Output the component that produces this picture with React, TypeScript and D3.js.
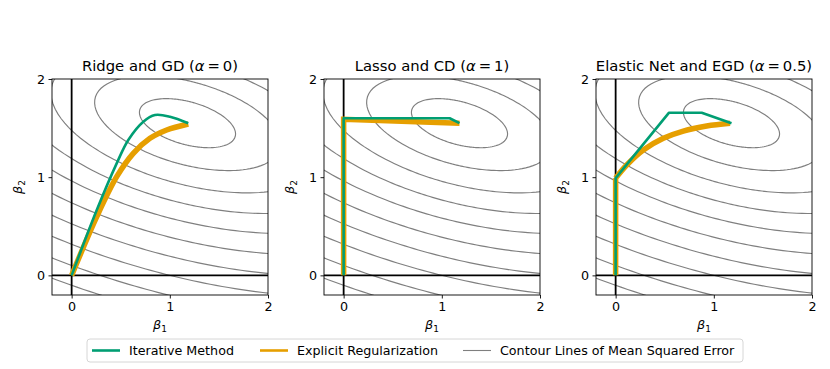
import { useEffect, useRef } from 'react';
import * as d3 from 'd3';

// ---- data ----
const panelTitles = ['Ridge and GD', 'Lasso and CD', 'Elastic Net and EGD'];
const panelAlphas = ['0', '1', '0.5'];
const tickValues = [0, 1, 2];
const axisDomain = [-0.2, 2];

// quadratic form of the mean squared error: centre, matrix [[a,b],[b,c]]
const mseCenter = [1.18, 1.55];
const mseMatrix = [1, 0.86, 3.84];
// contour lines, in sqrt(MSE) units
const contourLevels = [0.44, 0.85, 1.25, 1.62, 1.98, 2.36, 2.74, 3.12, 3.52, 3.9, 4.3];

// iterative method paths (green)
const gdPath = [[0, 0], [0.256, 0.666], [0.459, 1.141], [0.577, 1.379], [0.73, 1.565], [0.849, 1.633], [1.002, 1.616], [1.188, 1.549]];
const cdPath = [[0, 0], [0, 1.6], [1.08, 1.6], [1.18, 1.55]];
const egdPath = [[0, 0], [0, 0.99], [0.544, 1.657], [0.877, 1.657], [1.18, 1.549]];

// explicit regularization paths (orange)
const ridgePath = [[0, 0], [0.256, 0.598], [0.459, 1.005], [0.628, 1.243], [0.798, 1.396], [0.968, 1.481], [1.188, 1.542]];
const lassoPath = [[0, 0], [0, 1.59], [1.18, 1.55]];
const enetStraight = [[0, 0], [0, 0.99]];
const enetCurve = [[0, 0.99], [0.113, 1.124], [0.282, 1.277], [0.486, 1.396], [0.689, 1.47], [0.927, 1.521], [1.165, 1.549]];

const legendLabels = ['Iterative Method', 'Explicit Regularization', 'Contour Lines of Mean Squared Error'];

const GREEN = '#009e73';
const ORANGE = '#e69f00';
const FONT = 'DejaVu Sans, sans-serif';
const TICK_FS = '12.7px';

const App = () => {
    const svgRef = useRef<SVGSVGElement>(null);

    useEffect(() => {
        const svg = d3.select(svgRef.current);
        svg.selectAll('*').remove();

        const width = 830;
        const height = 369;
        const size = 216;
        const top = 79;
        const lefts = [52, 324, 596];

        svg.attr('width', width).attr('height', height)
            .style('font-family', FONT);

        const x = d3.scaleLinear().domain(axisDomain).range([0, size]);
        const y = d3.scaleLinear().domain(axisDomain).range([size, 0]);

        const line = d3.line<number[]>().x(d => x(d[0])).y(d => y(d[1]));
        const smooth = d3.line<number[]>().x(d => x(d[0])).y(d => y(d[1])).curve(d3.curveCatmullRom.alpha(0.5));

        // ellipse points for a contour level
        const ellipse = (r: number) => {
            const [a, b, c] = mseMatrix;
            return d3.range(0, 361, 2).map(deg => {
                const t = deg * Math.PI / 180;
                const ux = Math.cos(t), uy = Math.sin(t);
                const s = r / Math.sqrt(a * ux * ux + 2 * b * ux * uy + c * uy * uy);
                return [mseCenter[0] + s * ux, mseCenter[1] + s * uy];
            });
        };

        const greenPaths = [smooth(gdPath), line(cdPath), line(egdPath)];
        const orangePaths = [smooth(ridgePath), line(lassoPath), (line(enetStraight) || '') + (smooth(enetCurve) || '')];

        lefts.forEach((left, i) => {
            const g = svg.append('g').attr('transform', `translate(${left},${top})`);

            svg.append('clipPath').attr('id', `clip${i}`)
                .append('rect').attr('width', size).attr('height', size);

            const plot = g.append('g').attr('clip-path', `url(#clip${i})`);

            // contours
            contourLevels.forEach(r => {
                plot.append('path')
                    .attr('d', line(ellipse(r)))
                    .attr('fill', 'none')
                    .attr('stroke', '#7f7f7f')
                    .attr('stroke-width', 1.15);
            });

            // zero lines
            plot.append('line')
                .attr('x1', x(0)).attr('x2', x(0)).attr('y1', 0).attr('y2', size)
                .attr('stroke', 'black').attr('stroke-width', 1.8);
            plot.append('line')
                .attr('y1', y(0)).attr('y2', y(0)).attr('x1', 0).attr('x2', size)
                .attr('stroke', 'black').attr('stroke-width', 1.8);

            // paths
            plot.append('path')
                .attr('d', orangePaths[i])
                .attr('fill', 'none')
                .attr('stroke', ORANGE)
                .attr('stroke-width', 5.5);
            plot.append('path')
                .attr('d', greenPaths[i])
                .attr('fill', 'none')
                .attr('stroke', GREEN)
                .attr('stroke-width', 2.6)
                .attr('stroke-linejoin', 'round');

            // spines
            g.append('rect')
                .attr('width', size).attr('height', size)
                .attr('fill', 'none').attr('stroke', 'black').attr('stroke-width', 0.9);

            // axes
            const xAxis = g.append('g')
                .attr('transform', `translate(0,${size})`)
                .call(d3.axisBottom(x).tickValues(tickValues).tickFormat(d3.format('d')).tickSize(3.5).tickPadding(3.5));
            const yAxis = g.append('g')
                .call(d3.axisLeft(y).tickValues(tickValues).tickFormat(d3.format('d')).tickSize(3.5).tickPadding(3.5));
            [xAxis, yAxis].forEach(ax => {
                ax.select('.domain').remove();
                ax.selectAll('text').style('font-size', TICK_FS).style('font-family', FONT).attr('fill', 'black');
                ax.selectAll('line').attr('stroke', 'black').attr('stroke-width', 0.9);
            });

            // title
            const title = g.append('text')
                .attr('x', size / 2).attr('y', -8)
                .attr('text-anchor', 'middle')
                .style('font-size', '14.8px');
            title.append('tspan').text(`${panelTitles[i]} (`);
            title.append('tspan').attr('font-style', 'italic').text('α');
            title.append('tspan').text(`\u2009=\u2009${panelAlphas[i]})`);

            // axis labels
            const xl = g.append('text')
                .attr('x', size / 2).attr('y', size + 34)
                .attr('text-anchor', 'middle')
                .style('font-size', TICK_FS);
            xl.append('tspan').attr('font-style', 'italic').text('β');
            xl.append('tspan').attr('dy', 3).style('font-size', '9px').text('1');

            const yl = g.append('text')
                .attr('transform', `translate(-30,${size / 2}) rotate(-90)`)
                .attr('text-anchor', 'middle')
                .style('font-size', TICK_FS);
            yl.append('tspan').attr('font-style', 'italic').text('β');
            yl.append('tspan').attr('dy', 3).style('font-size', '9px').text('2');
        });

        // legend
        const lg = svg.append('g');
        lg.append('rect')
            .attr('x', 87).attr('y', 339).attr('width', 656).attr('height', 23)
            .attr('rx', 3)
            .attr('fill', 'white').attr('stroke', '#d6d6d6').attr('stroke-width', 1);
        const items = [
            { x: 92, color: GREEN, w: 2.6 },
            { x: 260, color: ORANGE, w: 2.6 },
            { x: 463, color: '#7f7f7f', w: 1.1 },
        ];
        items.forEach((it, i) => {
            lg.append('line')
                .attr('x1', it.x).attr('x2', it.x + 28)
                .attr('y1', 350.5).attr('y2', 350.5)
                .attr('stroke', it.color).attr('stroke-width', it.w);
            lg.append('text')
                .attr('x', it.x + 37).attr('y', 355)
                .style('font-size', TICK_FS)
                .text(legendLabels[i]);
        });
    }, []);

    return (
        <div>
            <style>{'body{margin:0}'}</style>
            <svg ref={svgRef}></svg>
        </div>
    );
};

export default App;
